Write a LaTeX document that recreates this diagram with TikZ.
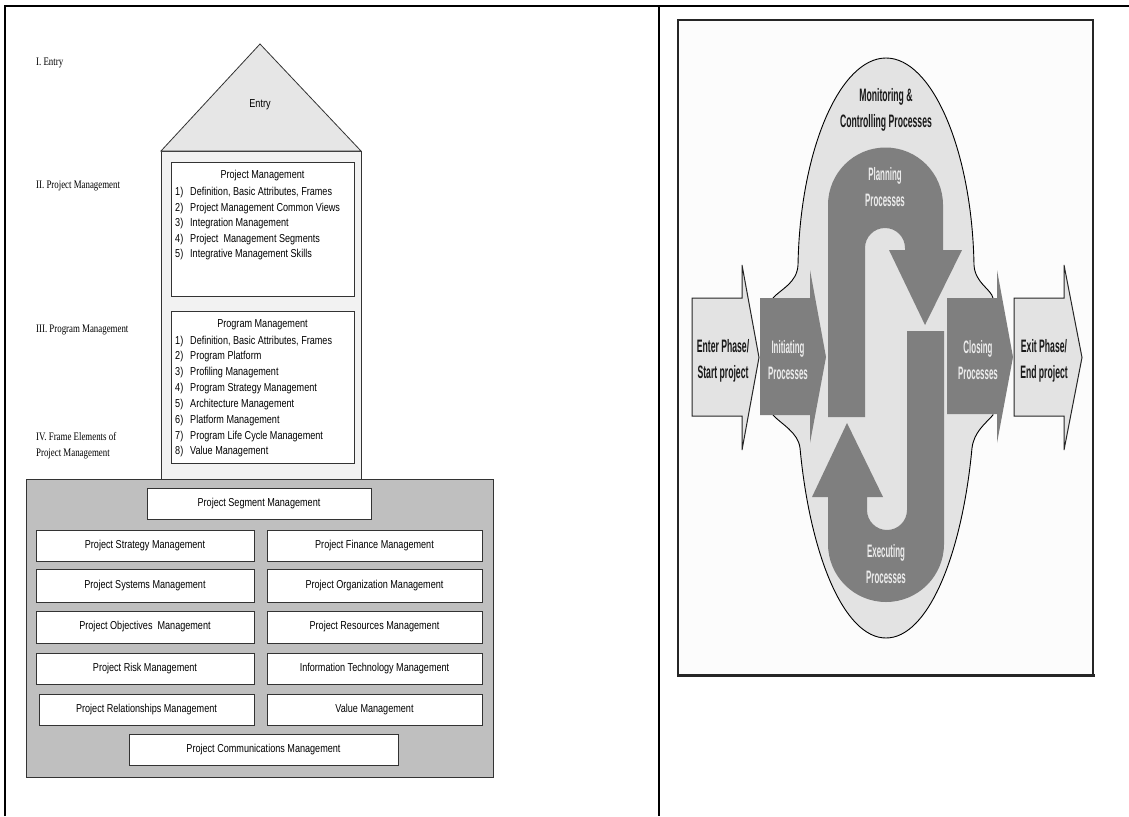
\documentclass[tikz,border=0pt]{standalone}
\usepackage{fontspec}
\setmainfont{Liberation Serif}
\newfontfamily\boxfont[FakeStretch=0.79]{Liberation Sans}
\newfontfamily\labelfont[FakeStretch=0.77]{Liberation Serif}
\newfontfamily\procbold[FakeStretch=0.48]{Liberation Sans}
\newfontfamily\proclight[FakeStretch=0.44]{Liberation Sans}
\definecolor{roofgray}{HTML}{E6E6E6}
\definecolor{bodygray}{HTML}{F2F2F2}
\definecolor{framegray}{HTML}{BFBFBF}
\definecolor{procLight}{HTML}{E3E3E3}
\definecolor{procDark}{HTML}{7F7F7F}
\definecolor{procText}{HTML}{ECECEC}
\begin{document}
\begin{tikzpicture}[x=1pt,y=-1pt,
  tableline/.style={line width=2pt,black},
  outline/.style={draw=black!80,line width=0.8pt},
  mbox/.style={outline,fill=white,inner sep=0pt,
    font=\boxfont\fontsize{11.5}{13}\selectfont},
  sidelabel/.style={anchor=base west,inner sep=0pt,
    font=\labelfont\fontsize{11.5}{13}\selectfont},
  listtxt/.style={anchor=base west,inner sep=0pt,
    font=\boxfont\fontsize{11.5}{13}\selectfont},
  listhead/.style={anchor=base,inner sep=0pt,
    font=\boxfont\fontsize{11.5}{13}\selectfont},
  darklabel/.style={align=center,inner sep=0pt,text=black!90,
    font=\procbold\bfseries\fontsize{18}{26}\selectfont},
  lightlabel/.style={align=center,inner sep=0pt,text=procText,
    font=\proclight\bfseries\fontsize{18}{26}\selectfont},
  blockarrow/.style={fill=procDark},
  phasearrow/.style={fill=procLight,draw=black!85,line width=1pt,line join=miter}
]
\useasboundingbox (0,0) rectangle (1129,816);
\fill[white] (0,0) rectangle (1129,816);

% table rules
\draw[tableline] (5,816) -- (5,6) -- (1129,6);
\draw[tableline] (659,6) -- (659,816);

% ---------------- left: the house ----------------
\node[sidelabel] (lab1) at (36,66) {I. Entry};
\node[sidelabel] (lab2) at (36,188) {II. Project Management};
\node[sidelabel] (lab3) at (36,332) {III. Program Management};
\node[sidelabel] (lab4) at (36,440) {IV. Frame Elements of};
\node[sidelabel] (lab4b) at (36,456) {Project Management};

% roof and walls
\filldraw[fill=bodygray,draw=black!80,line width=0.8pt]
  (161,479) -- (161,151) -- (361,151) -- (361,479);
\filldraw[fill=roofgray,draw=black!80,line width=0.8pt]
  (161,151) -- (260,44) -- (361,151) -- cycle;
\node[inner sep=0pt,font=\boxfont\fontsize{11.5}{13}\selectfont] (entry) at (260,105) {Entry};

% project management block
\draw[outline,fill=white] (171,162) rectangle (354,296);
\node[listhead] (pmhead) at (262.5,178.5) {Project Management};
\foreach \t [count=\i] in {{Definition, Basic Attributes, Frames},
    {Project Management Common Views},{Integration Management},
    {Project\ \ Management Segments},{Integrative Management Skills}}{
  \node[listtxt] (pmn\i) at (175,{195.5+15.5*(\i-1)}) {\i)};
  \node[listtxt] (pmi\i) at (190,{195.5+15.5*(\i-1)}) {\t};
}

% program management block
\draw[outline,fill=white] (171,311) rectangle (354,463);
\node[listhead] (pghead) at (262.5,327) {Program Management};
\foreach \t [count=\i] in {{Definition, Basic Attributes, Frames},
    {Program Platform},{Profiling Management},{Program Strategy Management},
    {Architecture Management},{Platform Management},
    {Program Life Cycle Management},{Value Management}}{
  \node[listtxt] (pgn\i) at (175,{344+15.85*(\i-1)}) {\i)};
  \node[listtxt] (pgi\i) at (190,{344+15.85*(\i-1)}) {\t};
}

% frame elements
\filldraw[fill=framegray,draw=black!80,line width=0.9pt] (26,479) rectangle (493,777);
\node[mbox,minimum width=224pt,minimum height=31pt] (seg) at (259,503.5) {Project Segment Management};

\node[mbox,minimum width=218pt,minimum height=31pt] (strat) at (145,545.5) {Project Strategy Management};
\node[mbox,minimum width=215pt,minimum height=31pt] (fin) at (374.5,545.5) {Project Finance Management};
\node[mbox,minimum width=218pt,minimum height=33pt] (sys) at (145,585.5) {Project Systems Management};
\node[mbox,minimum width=215pt,minimum height=33pt] (org) at (374.5,585.5) {Project Organization Management};
\node[mbox,minimum width=218pt,minimum height=32pt] (obj) at (145,627) {Project Objectives\ \ Management};
\node[mbox,minimum width=215pt,minimum height=32pt] (res) at (374.5,627) {Project Resources Management};
\node[mbox,minimum width=218pt,minimum height=31pt] (risk) at (145,668.5) {Project Risk Management};
\node[mbox,minimum width=215pt,minimum height=31pt] (itm) at (374.5,668.5) {Information Technology Management};
\node[mbox,minimum width=215pt,minimum height=31pt] (rel) at (146.5,709.5) {Project Relationships Management};
\node[mbox,minimum width=215pt,minimum height=31pt] (val) at (374.5,709.5) {Value Management};
\node[mbox,minimum width=269pt,minimum height=31pt] (comm) at (263.5,749.5) {Project Communications Management};

% ---------------- right: process groups ----------------
\draw[black!85,line width=1.6pt,fill=white!99!black] (678,20) rectangle (1093,675);
\draw[black!85,line width=3pt] (677,675.5) -- (1094.5,675.5);

% monitoring & controlling envelope
\filldraw[fill=procLight,draw=black,line width=0.9pt]
  (773,298) .. controls (781,289) and (797,283) .. (798,265)
  .. controls (800,150) and (840,58) .. (886,58)
  .. controls (932,58) and (972,150) .. (974,265)
  .. controls (975,283) and (991,289) .. (993,298)
  -- (993,415)
  .. controls (985,424) and (974,432) .. (972,448)
  .. controls (962,555) and (928,638) .. (886,638)
  .. controls (844,638) and (810,555) .. (800,448)
  .. controls (798,432) and (781,424) .. (773,415)
  -- cycle;

% planning loop
\fill[blockarrow] (828,417) -- (828,205) arc[start angle=180,end angle=0,radius=57.5pt]
  -- (943,250) -- (962,250) -- (925,325) -- (889,250) -- (905,250) -- (905,248)
  arc[start angle=0,end angle=180,radius=20pt] -- (865,417) -- cycle;

% executing loop
\fill[blockarrow] (907,331) -- (944,331) -- (944,544)
  arc[start angle=0,end angle=-180,radius=58pt]
  -- (828,497) -- (812,497) -- (847,423) -- (883,497) -- (867,497) -- (867,510)
  arc[start angle=180,end angle=360,radius=20pt] -- cycle;

% phase arrows
\filldraw[phasearrow] (692,298) -- (742,298) -- (742,265) -- (759,357.5)
  -- (742,450) -- (742,416) -- (692,416) -- cycle;
\fill[blockarrow] (760,298) -- (810,298) -- (810,270) -- (826,357)
  -- (810,443) -- (810,415) -- (760,415) -- cycle;
\fill[blockarrow] (947,298) -- (997,298) -- (997,270) -- (1013,357)
  -- (997,443) -- (997,414) -- (947,414) -- cycle;
\filldraw[phasearrow] (1014,298) -- (1064,298) -- (1064,265) -- (1082,357.5)
  -- (1064,450) -- (1064,416) -- (1014,416) -- cycle;

% labels
\node[darklabel] (monit) at (886,110) {Monitoring \&\\Controlling Processes};
\node[lightlabel] (plan) at (885,187) {Planning\\Processes};
\node[darklabel] (enter) at (723,361) {Enter Phase/\\Start project};
\node[lightlabel] (init) at (788,360) {Initiating\\Processes};
\node[lightlabel] (close) at (978,360) {Closing\\Processes};
\node[darklabel] (exit) at (1044,361) {Exit Phase/\\End project};
\node[lightlabel] (exec) at (886,564) {Executing\\Processes};
\end{tikzpicture}
\end{document}
